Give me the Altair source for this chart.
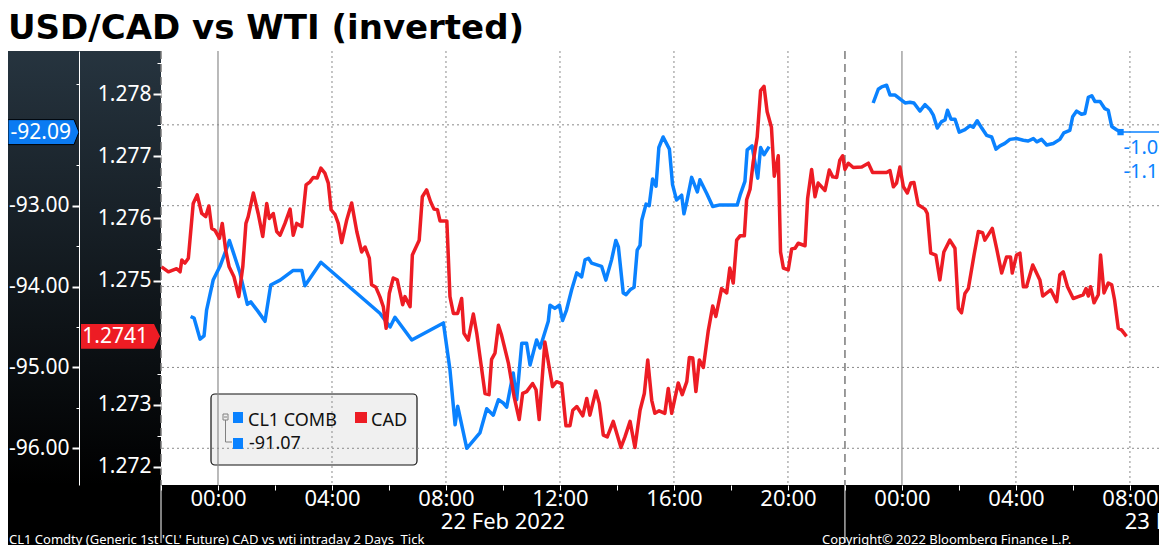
import altair as alt
import pandas as pd

TITLE = "USD/CAD vs WTI (inverted)"
FOOTER_LEFT = "CL1 Comdty (Generic 1st 'CL' Future) CAD vs wti intraday 2 Days\u00a0 Tick"
FOOTER_RIGHT = "Copyright\u00a9 2022 Bloomberg Finance L.P."

# (hours since 22 Feb 2022 00:00, inverted WTI price)  -- CL1 COMB
wti_session1 = [(-0.96,-94.37),(-0.84,-94.39),(-0.75,-94.50),(-0.63,-94.65),(-0.49,-94.61),(-0.40,-94.29),
    (-0.17,-93.92),(0.07,-93.75),(0.25,-93.58),(0.40,-93.43),(0.54,-93.58),(0.77,-93.83),(1.03,-94.22),
    (1.15,-94.19),(1.41,-94.31),(1.65,-94.43),(1.85,-93.98),(2.18,-93.92),(2.64,-93.80),(2.94,-93.80),
    (3.05,-93.99),(3.61,-93.70),(5.68,-94.33),(6.04,-94.50),(6.21,-94.38),(6.80,-94.66),(7.91,-94.45),
    (8.14,-95.03),(8.32,-95.71),(8.41,-95.48),(8.73,-96.00),(9.19,-95.81),(9.43,-95.51),(9.66,-95.59),
    (9.84,-95.40),(10.01,-95.44),(10.13,-95.49),(10.36,-95.07),(10.48,-95.40),(10.66,-94.70),(10.83,-94.70),
    (10.95,-94.97),(11.18,-94.66),(11.30,-94.76),(11.59,-94.43),(11.65,-94.23),(11.82,-94.27),(11.98,-94.23),
    (12.09,-94.42),(12.23,-94.29),(12.41,-94.04),(12.59,-93.83),(12.76,-93.88),(12.88,-93.67),(13.00,-93.65),
    (13.11,-93.71),(13.46,-93.75),(13.61,-93.92),(13.81,-93.67),(13.96,-93.43),(14.05,-93.51),(14.22,-94.08),
    (14.32,-94.10),(14.46,-94.04),(14.60,-94.01),(14.71,-93.55),(14.81,-93.49),(14.87,-93.18),(15.02,-92.98),
    (15.13,-93.00),(15.25,-92.67),(15.37,-92.76),(15.47,-92.28),(15.62,-92.15),(15.84,-92.30),(15.95,-92.74),
    (16.09,-92.93),(16.27,-92.87),(16.35,-93.10),(16.45,-92.95),(16.62,-92.65),(16.82,-92.83),(16.91,-92.68),
    (17.15,-92.85),(17.36,-93.01),(17.61,-92.99),(18.22,-92.99),(18.32,-92.87),(18.49,-92.70),(18.57,-92.31),
    (18.74,-92.26),(18.94,-92.66),(19.04,-92.28),(19.16,-92.37),(19.34,-92.27)]

wti_session2 = [(22.99,-91.73),(23.17,-91.56),(23.29,-91.53),(23.46,-91.51),(23.58,-91.63),(23.75,-91.63),
    (23.93,-91.68),(24.11,-91.73),(24.28,-91.72),(24.42,-91.73),(24.63,-91.83),(24.81,-91.75),(24.98,-91.81),
    (25.10,-91.88),(25.24,-92.04),(25.39,-91.96),(25.51,-91.94),(25.60,-91.82),(25.72,-91.93),(25.86,-91.93),
    (26.01,-92.09),(26.21,-92.06),(26.39,-92.01),(26.50,-92.03),(26.64,-91.95),(26.80,-92.04),(26.97,-92.13),
    (27.15,-92.15),(27.30,-92.30),(27.44,-92.26),(27.61,-92.23),(27.79,-92.18),(28.02,-92.17),(28.26,-92.19),
    (28.43,-92.20),(28.61,-92.17),(28.73,-92.21),(28.90,-92.18),(29.08,-92.25),(29.31,-92.23),(29.54,-92.18),
    (29.68,-92.10),(29.89,-92.07),(29.99,-91.90),(30.13,-91.83),(30.30,-91.87),(30.42,-91.86),(30.54,-91.66),
    (30.66,-91.64),(30.77,-91.71),(30.95,-91.71),(31.12,-91.80),(31.24,-91.82),(31.36,-92.02),(31.53,-92.06),
    (31.67,-92.09)]

# (hours since 22 Feb 2022 00:00, USD/CAD)  -- CAD
cad = [(-1.98,1.27522),(-1.74,1.27514),(-1.45,1.27519),(-1.33,1.27514),(-1.27,1.27533),(-1.16,1.27528),
    (-1.04,1.27536),(-0.87,1.27624),(-0.73,1.27638),(-0.57,1.27608),(-0.43,1.27603),(-0.32,1.27620),
    (-0.22,1.27584),(-0.11,1.27581),(0.05,1.27568),(0.15,1.27592),(0.27,1.27549),(0.39,1.27522),(0.56,1.27506),
    (0.73,1.27474),(0.87,1.27522),(0.98,1.27592),(1.06,1.27603),(1.24,1.27641),(1.41,1.27608),(1.57,1.27571),
    (1.71,1.27624),(1.80,1.27600),(1.94,1.27608),(2.06,1.27579),(2.18,1.27573),(2.35,1.27592),(2.53,1.27615),
    (2.64,1.27573),(2.76,1.27592),(2.94,1.27587),(3.09,1.27654),(3.23,1.27659),(3.34,1.27666),(3.48,1.27665),
    (3.61,1.27681),(3.75,1.27673),(3.87,1.27657),(3.97,1.27614),(4.11,1.27606),(4.22,1.27592),(4.34,1.27561),
    (4.52,1.27598),(4.69,1.27625),(4.87,1.27579),(5.04,1.27546),(5.16,1.27554),(5.31,1.27536),(5.39,1.27493),
    (5.54,1.27489),(5.68,1.27474),(5.80,1.27458),(5.90,1.27423),(6.01,1.27479),(6.15,1.27504),(6.29,1.27501),
    (6.48,1.27461),(6.56,1.27474),(6.74,1.27458),(6.82,1.27541),(6.95,1.27554),(7.06,1.27565),(7.17,1.27635),
    (7.32,1.27646),(7.46,1.27627),(7.58,1.27615),(7.70,1.27614),(7.79,1.27596),(8.03,1.27596),(8.14,1.27474),
    (8.26,1.27447),(8.41,1.27447),(8.55,1.27471),(8.63,1.27415),(8.78,1.27404),(8.96,1.27446),(9.08,1.27415),
    (9.37,1.27318),(9.51,1.27316),(9.60,1.27373),(9.72,1.27383),(9.84,1.27428),(9.95,1.27412),(10.19,1.27367),
    (10.39,1.27313),(10.57,1.27276),(10.69,1.27318),(10.83,1.27321),(11.04,1.27334),(11.16,1.27324),
    (11.27,1.27276),(11.47,1.27401),(11.62,1.27361),(11.74,1.27329),(11.88,1.27337),(12.06,1.27334),
    (12.21,1.27266),(12.35,1.27266),(12.45,1.27291),(12.59,1.27297),(12.80,1.27282),(12.94,1.27310),
    (13.05,1.27283),(13.26,1.27322),(13.38,1.27302),(13.52,1.27251),(13.66,1.27248),(13.87,1.27273),
    (14.01,1.27251),(14.14,1.27231),(14.28,1.27248),(14.46,1.27273),(14.63,1.27231),(14.81,1.27291),
    (14.96,1.27318),(15.08,1.27372),(15.22,1.27307),(15.33,1.27286),(15.48,1.27290),(15.68,1.27286),
    (15.80,1.27326),(15.92,1.27286),(16.15,1.27335),(16.29,1.27316),(16.45,1.27337),(16.54,1.27376),
    (16.66,1.27375),(16.77,1.27321),(16.89,1.27372),(17.03,1.27360),(17.20,1.27418),(17.36,1.27459),
    (17.47,1.27442),(17.67,1.27487),(17.85,1.27480),(17.96,1.27520),(18.08,1.27496),(18.20,1.27565),
    (18.32,1.27572),(18.47,1.27572),(18.55,1.27630),(18.67,1.27647),(18.78,1.27691),(18.92,1.27731),
    (19.04,1.27806),(19.16,1.27813),(19.27,1.27772),(19.42,1.27747),(19.52,1.27668),(19.66,1.27701),
    (19.74,1.27546),(19.84,1.27520),(20.01,1.27517),(20.13,1.27551),(20.25,1.27552),(20.36,1.27560),
    (20.60,1.27556),(20.69,1.27632),(20.83,1.27679),(20.95,1.27635),(21.06,1.27657),(21.30,1.27645),
    (21.45,1.27678),(21.57,1.27667),(21.71,1.27666),(21.82,1.27694),(21.92,1.27701),(22.00,1.27679),
    (22.12,1.27689),(22.29,1.27682),(22.59,1.27683),(22.82,1.27689),(22.97,1.27674),(23.46,1.27674),
    (23.58,1.27677),(23.70,1.27651),(23.81,1.27657),(23.93,1.27683),(24.05,1.27651),(24.19,1.27641),
    (24.31,1.27657),(24.42,1.27658),(24.57,1.27622),(24.81,1.27615),(24.89,1.27608),(25.01,1.27544),
    (25.19,1.27541),(25.33,1.27501),(25.47,1.27546),(25.68,1.27565),(25.86,1.27552),(25.98,1.27455),
    (26.09,1.27448),(26.21,1.27479),(26.33,1.27487),(26.53,1.27541),(26.68,1.27579),(26.83,1.27577),
    (26.91,1.27565),(27.17,1.27584),(27.32,1.27552),(27.50,1.27512),(27.67,1.27538),(27.81,1.27538),
    (27.87,1.27512),(28.02,1.27541),(28.14,1.27544),(28.26,1.27490),(28.37,1.27490),(28.59,1.27525),
    (28.84,1.27501),(28.94,1.27475),(29.22,1.27485),(29.43,1.27466),(29.54,1.27509),(29.66,1.27514),
    (29.81,1.27490),(30.01,1.27471),(30.19,1.27474),(30.36,1.27477),(30.46,1.27487),(30.54,1.27475),
    (30.62,1.27490),(30.74,1.27464),(30.89,1.27477),(30.97,1.27541),(31.09,1.27480),(31.24,1.27496),
    (31.36,1.27493),(31.46,1.27469),(31.59,1.27423),(31.71,1.27420),(31.88,1.27410)]

wti_last = -92.09
cad_last = 1.2741
wti_last_hour = 31.67
wti_changes = ["-1.02", "-1.12"]
legend_names = ["CL1 COMB", "CAD"]
legend_value = "-91.07"
day_labels = [(10, "22 Feb 2022"), (34, "23 Feb 2022")]
wti_grid = [-96, -95, -94, -93, -92]
wti_major = [-96, -95, -94, -93]
wti_minor = [-95.5, -94.5, -93.5, -92.5, -91.5]
cad_major = [1.272, 1.273, 1.275, 1.276, 1.277, 1.278]
cad_minor = [1.2725, 1.2735, 1.2755, 1.2765, 1.2775, 1.2785]
hours_dotted = [4, 8, 12, 16, 20, 28, 32]
hours_midnight = [0, 24]
hours_session = [-2, 22]
x_ticks = list(range(-2, 34, 2))

# ---------------------------------------------------------------- styling
W, H = 998, 434
NS = "Noto Sans"
BLUE = "#0A82FF"
BLUE_TAG = "#0B7BF2"
RED = "#ED1C24"
GRID = "#8a8a8a"

xscale = alt.Scale(domain=[-2.0, 33.02], nice=False, zero=False)
wti_scale = alt.Scale(domain=[-96.454, -91.087], nice=False, zero=False)
cad_scale = alt.Scale(domain=[1.271705, 1.278698], nice=False, zero=False)

xaxis = alt.Axis(values=x_ticks, title=None, domain=False, grid=False,
                 labelExpr="datum.value % 4 == 0 ? ((datum.value % 24 < 10 ? '0' : '') + (datum.value % 24) + ':00') : ''",
                 tickColor="white", tickSize=5, labelColor="white", labelFont=NS, labelFontSize=22,
                 labelPadding=15, labelBaseline="alphabetic", labelOverlap=False, zindex=1)
xenc = alt.X("h:Q", scale=xscale, axis=xaxis)

wti_axis = alt.Axis(orient="left", offset=82, values=wti_major, title=None, grid=False,
                    labelExpr="'-' + format(abs(datum.value), '.2f')",
                    domain=True, domainColor="white", domainWidth=1,
                    tickColor="white", tickSize=7, tickWidth=2,
                    labelColor="white", labelFont=NS, labelFontSize=21, labelPadding=3,
                    labelOverlap=False, zindex=1)
wti_minor_axis = alt.Axis(orient="left", offset=82, values=wti_minor, title=None, grid=False,
                          labels=False, domain=False, tickColor="white", tickSize=3, zindex=1)
cad_axis = alt.Axis(orient="left", offset=0, values=cad_major, format=".3f", title=None, grid=False,
                    domain=False, tickColor="white", tickSize=8, tickWidth=2,
                    labelColor="white", labelFont=NS, labelFontSize=21, labelPadding=2,
                    labelOverlap=False, zindex=1)
cad_minor_axis = alt.Axis(orient="left", offset=0, values=cad_minor, title=None, grid=False,
                          labels=False, domain=False, tickColor="white", tickSize=4, zindex=1)

# ---------------------------------------------------------------- data frames
one = pd.DataFrame({"a": [0]})
wti_df = pd.DataFrame(
    [{"h": h, "v": v, "seg": "s1"} for h, v in wti_session1] +
    [{"h": h, "v": v, "seg": "s2"} for h, v in wti_session2])
cad_df = pd.DataFrame([{"h": h, "v": v} for h, v in cad])
wti_last_df = pd.DataFrame({"h": [wti_last_hour], "v": [wti_last], "t": [f"{wti_last:.2f}"]})
cad_last_df = pd.DataFrame({"v": [cad_last], "t": [f"{cad_last:.4f}"]})
days_df = pd.DataFrame({"h": [d[0] for d in day_labels], "t": [d[1] for d in day_labels]})

# ---------------------------------------------------------------- layers
title_mark = alt.Chart(pd.DataFrame({"t": [TITLE]})).mark_text(
    align="left", baseline="alphabetic", font="DejaVu Sans", fontWeight="bold",
    fontSize=34, color="black").encode(x=alt.value(-153), y=alt.value(-12), text="t:N")

panel = alt.Chart(one).mark_rect(
    color={"gradient": "linear", "x1": 0, "x2": 0, "y1": 0, "y2": 1,
           "stops": [{"offset": 0, "color": "#26343f"}, {"offset": 1, "color": "#000000"}]}
).encode(x=alt.value(-153), x2=alt.value(0), y=alt.value(0), y2=alt.value(H))

band = alt.Chart(one).mark_rect(color="black").encode(
    x=alt.value(-153), x2=alt.value(W), y=alt.value(H), y2=alt.value(H + 60))

legend_box = alt.Chart(one).mark_rect(fill="#f0f0f0", stroke="#111111", strokeWidth=1.2, cornerRadius=4).encode(
    x=alt.value(50), x2=alt.value(256), y=alt.value(343), y2=alt.value(414))

vgrid_dot = alt.Chart(pd.DataFrame({"h": hours_dotted})).mark_rule(
    color=GRID, strokeDash=[2, 3], strokeWidth=1).encode(x=xenc)
vgrid_mid = alt.Chart(pd.DataFrame({"h": hours_midnight})).mark_rule(
    color="#8c8c8c", strokeWidth=1.2).encode(x=xenc)
vgrid_ses = alt.Chart(pd.DataFrame({"h": hours_session})).mark_rule(
    color="#7a7a7a", strokeDash=[8, 5], strokeWidth=1.5).encode(x=xenc)
ses_band = alt.Chart(pd.DataFrame({"h": hours_session})).mark_rule(
    color="white", strokeWidth=1).encode(x=xenc, y=alt.value(H), y2=alt.value(H + 58))
hgrid = alt.Chart(pd.DataFrame({"v": wti_grid})).mark_rule(
    color=GRID, strokeDash=[2, 3], strokeWidth=1).encode(
    y=alt.Y("v:Q", scale=wti_scale, axis=wti_minor_axis))

# legend contents
def vrect(x1, x2, y1, y2, **kw):
    return alt.Chart(one).mark_rect(**kw).encode(
        x=alt.value(x1), x2=alt.value(x2), y=alt.value(y1), y2=alt.value(y2))

leg_tree_box = vrect(62, 67, 363, 369, fill="#f0f0f0", stroke="#808080", strokeWidth=1)
leg_tree_minus = alt.Chart(one).mark_rule(color="#808080").encode(
    x=alt.value(63), x2=alt.value(66), y=alt.value(366))
leg_tree_v = alt.Chart(one).mark_rule(color="#808080").encode(
    x=alt.value(64.5), y=alt.value(369), y2=alt.value(391))
leg_tree_h = alt.Chart(one).mark_rule(color="#808080").encode(
    x=alt.value(64.5), x2=alt.value(71), y=alt.value(391))
leg_sq1 = vrect(72, 82, 361, 372, color=BLUE)
leg_sq2 = vrect(194, 206, 361, 372, color=RED)
leg_sq3 = vrect(72, 82, 387, 398, color=BLUE)
leg_t1 = alt.Chart(pd.DataFrame({"t": [legend_names[0]]})).mark_text(
    align="left", baseline="alphabetic", font=NS, fontSize=18, color="#111111").encode(
    x=alt.value(87), y=alt.value(375), text="t:N")
leg_t2 = alt.Chart(pd.DataFrame({"t": [legend_names[1]]})).mark_text(
    align="left", baseline="alphabetic", font=NS, fontSize=18, color="#111111").encode(
    x=alt.value(210), y=alt.value(375), text="t:N")
leg_t3 = alt.Chart(pd.DataFrame({"t": [legend_value]})).mark_text(
    align="left", baseline="alphabetic", font=NS, fontSize=18, color="#111111").encode(
    x=alt.value(88), y=alt.value(398), text="t:N")

# WTI series
wti_line = alt.Chart(wti_df).mark_line(color=BLUE, strokeWidth=3.5, strokeJoin="round").encode(
    x=xenc, y=alt.Y("v:Q", scale=wti_scale, axis=wti_axis), detail="seg:N")
wti_end = alt.Chart(wti_last_df).mark_square(color=BLUE, size=40, opacity=1).encode(
    x=xenc, y=alt.Y("v:Q", scale=wti_scale, axis=None))
wti_now = alt.Chart(wti_last_df).mark_rule(color=BLUE, strokeWidth=1.5).encode(
    x=xenc, x2=alt.value(W), y=alt.Y("v:Q", scale=wti_scale, axis=None))
wti_tag = alt.Chart(wti_last_df).mark_point(
    shape="M-1,-0.352L0.859,-0.352L1,0L0.859,0.352L-1,0.352Z", size=5041,
    filled=True, color=BLUE_TAG, stroke="black", strokeWidth=1, opacity=1).encode(
    x=alt.value(-117.5), y=alt.Y("v:Q", scale=wti_scale, axis=None))
wti_tag_text = alt.Chart(wti_last_df).mark_text(
    align="right", baseline="middle", font=NS, fontSize=21, color="white", dy=1).encode(
    x=alt.value(-90), y=alt.Y("v:Q", scale=wti_scale, axis=None), text="t:N")
wti_chg1 = alt.Chart(wti_last_df.assign(t=wti_changes[0])).mark_text(
    align="left", baseline="middle", font=NS, fontSize=20, color=BLUE, dx=3, dy=16).encode(
    x=xenc, y=alt.Y("v:Q", scale=wti_scale, axis=None), text="t:N")
wti_chg2 = alt.Chart(wti_last_df.assign(t=wti_changes[1])).mark_text(
    align="left", baseline="middle", font=NS, fontSize=20, color=BLUE, dx=3, dy=40).encode(
    x=xenc, y=alt.Y("v:Q", scale=wti_scale, axis=None), text="t:N")

# CAD series
cad_line = alt.Chart(cad_df).mark_line(color=RED, strokeWidth=3.5, strokeJoin="round").encode(
    x=xenc, y=alt.Y("v:Q", scale=cad_scale, axis=cad_axis))
cad_tag = alt.Chart(cad_last_df).mark_point(
    shape="M-1,-0.316L0.848,-0.316L1,0L0.848,0.316L-1,0.316Z", size=6241,
    filled=True, color=RED, opacity=1).encode(
    x=alt.value(-40.5), y=alt.Y("v:Q", scale=cad_scale, axis=cad_minor_axis))
cad_tag_text = alt.Chart(cad_last_df).mark_text(
    align="right", baseline="middle", font=NS, fontSize=21, color="white", dy=1).encode(
    x=alt.value(-13), y=alt.Y("v:Q", scale=cad_scale, axis=None), text="t:N")

# bottom texts
days = alt.Chart(days_df).mark_text(
    align="center", baseline="alphabetic", font=NS, fontSize=22, color="white").encode(
    x=xenc, y=alt.value(H + 44), text="t:N")
foot_l = alt.Chart(pd.DataFrame({"t": [FOOTER_LEFT]})).mark_text(
    align="left", baseline="alphabetic", font=NS, fontSize=13, color="white").encode(
    x=alt.value(-152), y=alt.value(H + 59), text="t:N")
foot_r = alt.Chart(pd.DataFrame({"t": [FOOTER_RIGHT]})).mark_text(
    align="left", baseline="alphabetic", font=NS, fontSize=13, color="white").encode(
    x=alt.value(661), y=alt.value(H + 59), text="t:N")

chart = alt.layer(
    title_mark, panel, band, legend_box,
    vgrid_dot, vgrid_mid, vgrid_ses, ses_band, hgrid,
    leg_tree_box, leg_tree_minus, leg_tree_v, leg_tree_h, leg_sq1, leg_sq2, leg_sq3, leg_t1, leg_t2, leg_t3,
    wti_line, wti_now, wti_end, wti_tag, wti_tag_text, wti_chg1, wti_chg2,
    cad_line, cad_tag, cad_tag_text,
    days, foot_l, foot_r,
).resolve_scale(y="independent").properties(
    width=W, height=H,
    padding={"left": 153, "top": 43, "right": 0, "bottom": 60},
    autosize=alt.AutoSizeParams(type="none"),
    background="white",
).configure_view(stroke=None, fill="white")

chart.save("out.html", embed_options={"renderer": "svg", "actions": False})
